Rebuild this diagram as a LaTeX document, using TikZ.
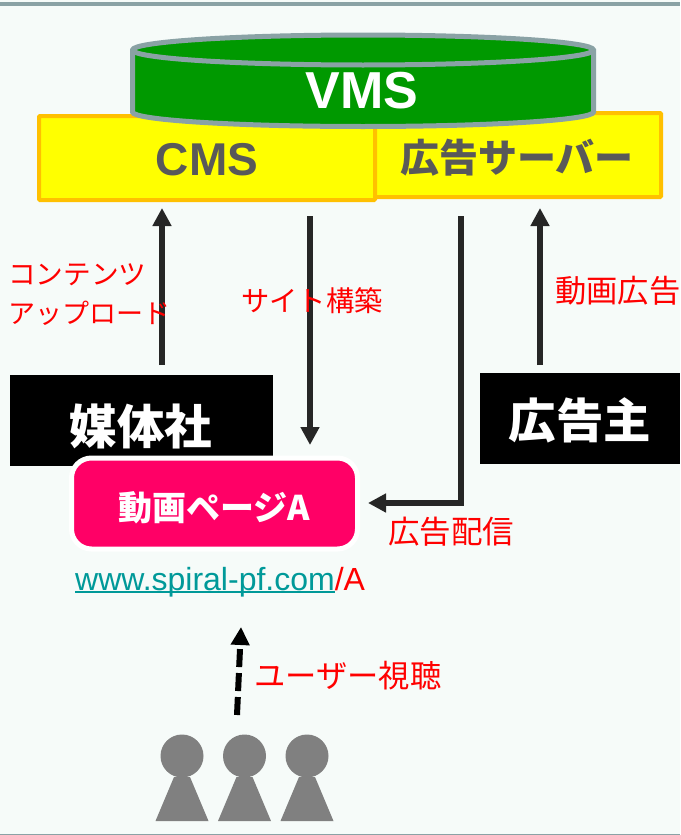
\documentclass[tikz,border=0pt]{standalone}
\usepackage{fontspec}
\setmainfont{Liberation Sans}
\newfontfamily\cjk{Noto Sans CJK JP}
\usetikzlibrary{arrows.meta,calc,positioning}
\definecolor{pagebg}{HTML}{F6FBF9}
\definecolor{rulegray}{HTML}{8AA2A5}
\definecolor{vmsgreen}{HTML}{009900}
\definecolor{boxedge}{HTML}{FFC000}
\definecolor{boxyellow}{HTML}{FFFF00}
\definecolor{labelgray}{HTML}{595959}
\definecolor{pagepink}{HTML}{FF0066}
\definecolor{urlteal}{HTML}{009999}
\definecolor{flowgray}{HTML}{262626}
\definecolor{usergray}{HTML}{808080}
\newcommand{\px}[1]{\fontsize{#1}{#1}\selectfont}
\newsavebox{\linkbox}
\newcommand{\linktext}[1]{\sbox{\linkbox}{#1}\rlap{\rule[-3.2pt]{\wd\linkbox}{2pt}}\usebox{\linkbox}}
\tikzset{
	sysbox/.style={draw=boxedge, fill=boxyellow, line width=4pt, rounded corners=1pt, inner sep=0pt},
	actorbox/.style={fill=black, inner sep=0pt, text=white, font=\cjk\bfseries\px{47.5}},
	pagebox/.style={draw=white, fill=pagepink, line width=5pt, rounded corners=20pt, inner sep=0pt, text=white, font=\cjk\bfseries\px{34}},
	redlabel/.style={text=red, inner sep=0pt, font=\cjk\px{#1}},
	flow/.style={draw=flowgray, line width=6pt, -{Triangle[length=18pt,width=18pt]}},
}
\begin{document}
\begin{tikzpicture}[x=1pt,y=-1pt]
	\useasboundingbox (0,0) rectangle (680,835);
	\fill[pagebg] (0,0) rectangle (680,835);
	\fill[rulegray] (0,2) rectangle (680,6);
	\fill[rulegray] (0,833.5) rectangle (680,835);
	%%%%% systems
	\node[sysbox, minimum width=288pt, minimum height=84pt] (adserver) at (517,155) {};
	\node[sysbox, minimum width=336pt, minimum height=84pt] (cms) at (207,158) {};
	\node[text=labelgray, inner sep=0pt, font=\bfseries\px{46}] (cmstext) at (207,160) {CMS};
	\node[text=labelgray, inner sep=0pt, font=\cjk\bfseries\px{39}] (adtext) at (517,158) {広告サーバー};
	\filldraw[fill=vmsgreen, draw=rulegray, line width=5pt] (132.5,50) -- (132.5,112) arc[start angle=180, end angle=0, x radius=230.5, y radius=14.5] -- (593.5,50) arc[start angle=0, end angle=-180, x radius=230.5, y radius=15] -- cycle;
	\draw[rulegray, line width=5pt] (132.5,50) arc[start angle=180, end angle=0, x radius=230.5, y radius=15];
	\node[text=white, inner sep=0pt, font=\bfseries\px{52}] (vms) at (362,91) {VMS};
	%%%%% actors
	\node[actorbox, minimum width=263pt, minimum height=91pt] (media) at (141.5,420.5) {};
	\node[text=white, inner sep=0pt, font=\cjk\bfseries\px{47.5}] (mediatext) at (141,426) {媒体社};
	\node[actorbox, minimum width=200pt, minimum height=91pt] (advertiser) at (580,418.5) {\raisebox{-20pt}[0pt][0pt]{広告主}};
	\node[pagebox, minimum width=286pt, minimum height=91pt] (page) at (214.5,503.5) {\raisebox{-17pt}[0pt][0pt]{動画ページA}};
	\node[inner sep=0pt, text=red, font=\px{32}, anchor=base west] (url) at (75,590) {{\color{urlteal}\linktext{www.spiral-pf.com}}/A};
	%%%%% flows
	\coordinate (cmsup) at (162,208);
	\coordinate (mediaup) at (162,365);
	\coordinate (cmsdown) at (310,216);
	\coordinate (pagetop) at (310,445);
	\coordinate (addown) at (461,216);
	\coordinate (pageright) at (368,503);
	\coordinate (adup) at (540,208);
	\coordinate (advertiserup) at (540,365);
	\coordinate (userfoot) at (237,715);
	\coordinate (usertip) at (241,627);
	\draw[flow] (mediaup) -- (cmsup);
	\draw[flow] (cmsdown) -- (pagetop);
	\draw[flow] (addown) |- (pageright);
	\draw[flow] (advertiserup) -- (adup);
	\draw[line width=6pt, dash pattern=on 18pt off 6pt, -{Triangle[length=18pt,width=18pt]}] (userfoot) -- (usertip);
	%%%%% labels
	\node[redlabel=27.7, anchor=west] (upload1) at (8,275) {コンテンツ};
	\node[redlabel=27, anchor=west] (upload2) at (8,313) {アップロード};
	\node[redlabel=28.3, anchor=west] (build) at (241,301) {サイト構築};
	\node[redlabel=31.3, anchor=west] (adclip) at (555,291) {動画広告};
	\node[redlabel=31.5, anchor=west] (delivery) at (388,532) {広告配信};
	\node[redlabel=31.3, anchor=west] (viewing) at (254,676) {ユーザー視聴};
	%%%%% users
	\foreach \name/\cx in {usera/182, userb/244.5, userc/307} {
		\fill[usergray] (\cx-8,777) -- (\cx+8,777) -- (\cx+26.5,821) -- (\cx-26.5,821) -- cycle;
		\node[circle, fill=usergray, inner sep=0pt, minimum size=43pt] (\name) at (\cx,756) {};
	}
\end{tikzpicture}
\end{document}
